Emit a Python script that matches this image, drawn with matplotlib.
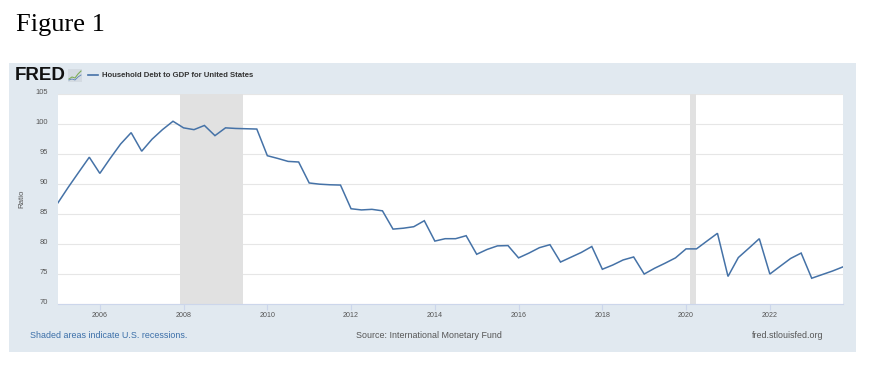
import datetime as dt
import matplotlib
matplotlib.use("Agg")
import matplotlib.pyplot as plt
import matplotlib.dates as mdates
import matplotlib.transforms as mtransforms
from matplotlib.patches import Rectangle
from matplotlib.lines import Line2D

# ---------------- data ----------------
start_year = 2005
end_year = 2023
values = [
    86.9, 89.5, 92.0, 94.5,     # 2005
    91.8, 94.3, 96.7, 98.6,     # 2006
    95.5, 97.5, 99.1, 100.5,    # 2007
    99.4, 99.1, 99.8, 98.1,     # 2008
    99.4, 99.3, 99.25, 99.2,    # 2009
    94.75, 94.3, 93.8, 93.7,    # 2010
    90.2, 90.0, 89.9, 89.85,    # 2011
    85.9, 85.7, 85.8, 85.55,    # 2012
    82.5, 82.65, 82.9, 83.9,    # 2013
    80.5, 80.9, 80.9, 81.4,     # 2014
    78.3, 79.1, 79.7, 79.75,    # 2015
    77.7, 78.5, 79.4, 79.9,     # 2016
    77.0, 77.8, 78.6, 79.6,     # 2017
    75.8, 76.5, 77.35, 77.85,   # 2018
    75.0, 75.96, 76.8, 77.7,    # 2019
    79.2, 79.2, 80.5, 81.8,     # 2020
    74.6, 77.75, 79.3, 80.9,    # 2021
    75.0, 76.3, 77.6, 78.5,     # 2022
    74.3, 74.9, 75.5, 76.2,     # 2023
]
dates = [dt.date(y, m, 1) for y in range(start_year, end_year + 1) for m in (1, 4, 7, 10)]

recessions = [(dt.date(2007, 12, 1), dt.date(2009, 6, 1)),
              (dt.date(2020, 2, 1), dt.date(2020, 4, 1))]

y_ticks = [70, 75, 80, 85, 90, 95, 100, 105]
x_tick_years = [2006, 2008, 2010, 2012, 2014, 2016, 2018, 2020, 2022]

title = "Household Debt to GDP for United States"
y_label = "Ratio"

# ---------------- figure ----------------
W, H = 872, 366
fig = plt.figure(figsize=(W / 100, H / 100), dpi=100, facecolor="white")

def fx(px):
    return px / W

def fy(py):
    return 1 - py / H

# FRED panel background
panel = Rectangle((fx(9), fy(352)), fx(856) - fx(9), fy(62.5) - fy(352),
                  transform=fig.transFigure, facecolor="#e1e9f0", edgecolor="none", zorder=-5)
fig.patches.append(panel)

# "Figure 1"
fig.text(fx(16), fy(25), "Figure 1", family="Liberation Serif", fontsize=19,
         va="center", ha="left", color="black")

# FRED logo text
fig.text(fx(14.5), fy(76), "FRED", family="Liberation Sans", fontweight="heavy",
         fontsize=13.5, va="center", ha="left", color="#111111")

# small logo icon
icon = Rectangle((fx(68), fy(82)), fx(14), fy(69) - fy(82), transform=fig.transFigure,
                 facecolor="#d4dbe2", edgecolor="none", zorder=-4)
fig.patches.append(icon)
fig.lines.append(Line2D([fx(69), fx(72), fx(75), fx(78), fx(81)],
                        [fy(79), fy(77), fy(78), fy(74), fy(71)],
                        transform=fig.transFigure, color="#7fae5a", lw=0.8))
fig.lines.append(Line2D([fx(69), fx(72), fx(75), fx(78), fx(81)],
                        [fy(80), fy(79), fy(80), fy(77), fy(75)],
                        transform=fig.transFigure, color="#5b82b5", lw=0.6))

# legend line + title
fig.lines.append(Line2D([fx(88), fx(98)], [fy(75), fy(75)], transform=fig.transFigure,
                        color="#4572a7", lw=1.2))
fig.text(fx(102), fy(75.5), title, family="Liberation Sans", fontweight="bold",
         fontsize=5.55, va="center", ha="left", color="#333333")

# ---------------- axes ----------------
left, right, top, bottom = 58, 843, 94.3, 304
ax = fig.add_axes([fx(left), fy(bottom), fx(right) - fx(left), fy(top) - fy(bottom)])
ax.set_zorder(2)
ax.set_facecolor("white")

for s, e in recessions:
    ax.axvspan(s, e, color="#e1e1e1", lw=0, zorder=1)

ax.plot(dates, values, color="#4572a7", lw=1.1, zorder=3, solid_joinstyle="miter")

ax.set_xlim(dt.date(2005, 1, 1), dt.date(2023, 10, 1))
ax.set_ylim(70, 105)
ax.set_yticks(y_ticks)
ax.set_xticks([dt.date(y, 1, 1) for y in x_tick_years])
ax.xaxis.set_major_formatter(mdates.DateFormatter("%Y"))

ax.grid(axis="y", color="#e6e6e6", lw=0.8, zorder=0)
ax.set_axisbelow(True)

for side in ("left", "right", "top"):
    ax.spines[side].set_visible(False)
ax.spines["bottom"].set_color("#ccd6eb")
ax.spines["bottom"].set_linewidth(0.8)

ax.tick_params(axis="y", length=0, labelsize=5.4, labelcolor="#555555", pad=7)
ax.tick_params(axis="x", length=4, width=0.8, color="#ccd6eb", labelsize=5.1,
               labelcolor="#555555", pad=2)
shift_up = mtransforms.ScaledTranslation(0, 3 / 100, fig.dpi_scale_trans)
for lab in ax.get_yticklabels():
    lab.set_family("Liberation Sans")
    lab.set_transform(lab.get_transform() + shift_up)
for lab in ax.get_xticklabels():
    lab.set_family("Liberation Sans")

fig.text(fx(21.5), fy(199), y_label, rotation=90, family="Liberation Sans", fontsize=5.7,
         va="center", ha="center", color="#555555")

# footer
fig.text(fx(30), fy(336), "Shaded areas indicate U.S. recessions.", family="Liberation Sans",
         fontsize=6.4, va="center", ha="left", color="#3a6ea8")
fig.text(fx(429), fy(336), "Source: International Monetary Fund", family="Liberation Sans",
         fontsize=6.4, va="center", ha="center", color="#555555")
fig.text(fx(823), fy(336), "fred.stlouisfed.org", family="Liberation Sans",
         fontsize=6.4, va="center", ha="right", color="#555555")

fig.savefig("out.png", dpi=100, facecolor="white")
